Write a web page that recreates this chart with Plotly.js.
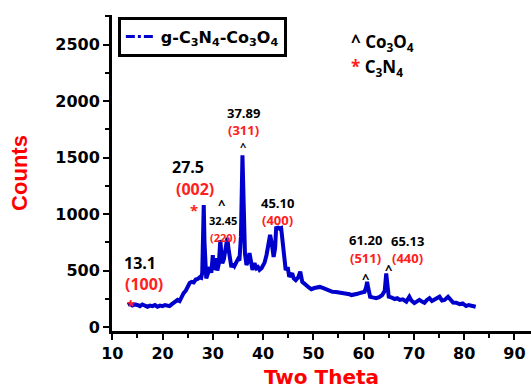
<!DOCTYPE html>
<html>
<head>
<meta charset="utf-8">
<script src="https://cdn.plot.ly/plotly-3.0.1.min.js"></script>
<style>html,body{margin:0;padding:0;background:#fff;}#chart{width:531px;height:389px;}</style>
</head>
<body>
<div id="chart"></div>
<script>
// Two-theta positions and counts
const twoTheta = [13.1,13.5,14.0,14.5,15.0,15.5,16.0,16.5,17.0,17.5,18.0,18.5,19.0,19.5,20.0,20.5,21.0,21.4,21.8,22.2,22.6,23.0,23.4,23.8,24.2,24.6,25.0,25.4,25.8,26.2,26.6,27.0,27.4,27.7,27.9,28.05,28.2,28.35,28.5,28.7,29.0,29.4,29.7,30.0,30.2,30.4,30.6,30.9,31.2,31.5,31.7,31.9,32.2,32.6,32.9,33.1,33.3,33.7,34.0,34.3,34.7,35.0,35.3,35.6,35.9,36.15,36.4,36.7,37.0,37.3,37.6,37.9,38.3,38.7,39.0,39.3,39.7,40.0,40.3,40.7,41.1,41.4,41.7,42.1,42.4,42.6,43.0,43.3,43.6,43.9,44.2,44.5,44.9,45.2,45.5,45.8,46.1,46.5,47.0,47.4,47.8,48.2,48.6,49.1,49.6,50.2,50.8,51.3,52.0,52.6,53.2,53.8,54.5,55.2,56.0,56.6,57.2,57.6,58.2,58.8,59.2,59.7,60.2,60.5,60.7,60.9,61.3,61.8,62.5,63.1,63.7,64.2,64.5,64.8,65.0,65.5,66.2,66.7,67.2,67.8,68.5,69.1,69.5,70.1,70.6,71.1,71.6,72.1,72.6,73.1,73.6,74.1,74.6,75.1,75.6,76.1,76.8,77.3,77.8,78.4,79.1,79.7,80.4,80.9,81.5,82.3];
const counts = [195,205,190,200,195,185,200,190,180,190,185,195,180,190,185,195,190,185,200,215,225,240,230,270,300,320,360,390,400,395,420,425,440,435,480,800,1080,750,440,430,470,530,480,635,520,520,610,500,560,770,650,565,600,720,790,700,620,530,560,540,575,600,590,800,1520,1000,650,550,580,655,560,505,565,520,530,505,520,540,570,640,760,815,750,620,700,875,880,870,875,770,600,505,530,445,460,475,430,415,440,490,400,380,370,350,335,345,350,355,345,335,325,312,310,305,305,303,290,283,285,295,300,305,312,350,400,350,268,262,255,265,283,320,475,350,268,262,248,255,240,245,225,268,235,212,230,240,225,215,240,255,230,240,250,268,235,240,268,235,217,215,203,210,186,195,185,180];

const seriesName = "<b>g-C<sub>3</sub>N<sub>4</sub>-Co<sub>3</sub>O<sub>4</sub></b>";
const xTitle = "Two Theta";
const yTitle = "Counts";

// peak labels: [two theta anchor, counts anchor, text, color, size]
const peakLabels = [
  [15.6, 565, "13.1", "#000", 16],
  [16.4, 382, "(100)", "#ff2020", 16],
  [13.7, 188, "*", "#ff2020", 14],
  [25.0, 1420, "27.5", "#000", 16],
  [26.4, 1220, "(002)", "#ff2020", 16],
  [26.2, 1040, "*", "#ff2020", 15],
  [31.9, 1090, "^", "#000", 13],
  [32.1, 940, "32.45", "#000", 11],
  [32.1, 790, "(220)", "#ff2020", 11],
  [36.1, 1890, "37.89", "#000", 13],
  [36.1, 1745, "(311)", "#ff2020", 13],
  [36.2, 1595, "^", "#000", 11],
  [42.9, 1100, "45.10", "#000", 13],
  [42.9, 945, "(400)", "#ff2020", 13],
  [60.4, 772, "61.20", "#000", 13],
  [60.4, 607, "(511)", "#ff2020", 13],
  [60.4, 438, "^", "#000", 13],
  [68.8, 760, "65.13", "#000", 13],
  [68.8, 610, "(440)", "#ff2020", 13],
  [65.0, 510, "^", "#000", 13]
];

const blue = "#0000cc";
const annFont = "Open Sans, DejaVu Sans, sans-serif";

const annotations = peakLabels.map(p => ({
  x: p[0], y: p[1], xref: "x", yref: "y",
  text: "<b>" + p[2] + "</b>", showarrow: false,
  font: {family: annFont, size: p[4], color: p[3]}
}));
annotations.push({xref: "paper", yref: "paper", x: 0.565, y: 0.96, xanchor: "left",
  text: "<b>^ Co<sub>3</sub>O<sub>4</sub></b>", showarrow: false,
  font: {family: annFont, size: 17, color: "#000"}});
annotations.push({xref: "paper", yref: "paper", x: 0.565, y: 0.88, xanchor: "left",
  text: "<b><span style='color:#ff2020'>*</span> C<sub>3</sub>N<sub>4</sub></b>", showarrow: false,
  font: {family: annFont, size: 17, color: "#000"}});

const data = [
  {x: twoTheta, y: counts, type: "scatter", mode: "lines", showlegend: false,
   line: {color: blue, width: 4}},
  {x: [null], y: [null], type: "scatter", mode: "lines", name: seriesName,
   line: {color: blue, width: 3, dash: "dashdot"}}
];

const tickFont = {family: "DejaVu Sans, sans-serif", size: 16, color: "#000", weight: "bold"};

const layout = {
  width: 531, height: 389,
  margin: {l: 112, r: 0, t: 15, b: 58},
  paper_bgcolor: "#fff", plot_bgcolor: "#fff",
  showlegend: true,
  legend: {x: 0.014, y: 0.995, xanchor: "left", yanchor: "top",
    bordercolor: "#000", borderwidth: 3, bgcolor: "#fff",
    font: {family: "DejaVu Sans, sans-serif", size: 16, color: "#000"}},
  xaxis: {
    range: [9.95, 93.3], tickmode: "linear", tick0: 10, dtick: 10,
    showgrid: false, zeroline: false, showline: true, linecolor: "#000", linewidth: 3,
    ticks: "outside", ticklen: 6, tickwidth: 2, tickcolor: "#000",
    minor: {dtick: 5, tick0: 10, ticks: "outside", ticklen: 4, tickwidth: 2, tickcolor: "#000"},
    tickfont: tickFont,
    title: {text: "<b>" + xTitle + "</b>", standoff: 24,
      font: {family: "DejaVu Sans, sans-serif", size: 20, color: "#ff0000"}}
  },
  yaxis: {
    range: [-35, 2761], tickmode: "linear", tick0: 0, dtick: 500,
    showgrid: false, zeroline: false, showline: true, linecolor: "#000", linewidth: 3,
    ticks: "outside", ticklen: 6, tickwidth: 2, tickcolor: "#000",
    minor: {dtick: 250, tick0: 0, ticks: "outside", ticklen: 4, tickwidth: 2, tickcolor: "#000"},
    tickfont: tickFont,
    title: {text: "<b>" + yTitle + "</b>", standoff: 22,
      font: {family: "Liberation Sans, Arial, sans-serif", size: 22, color: "#ff0000"}}
  },
  annotations: annotations
};

Plotly.newPlot("chart", data, layout, {displayModeBar: false, staticPlot: true});
</script>
</body>
</html>
